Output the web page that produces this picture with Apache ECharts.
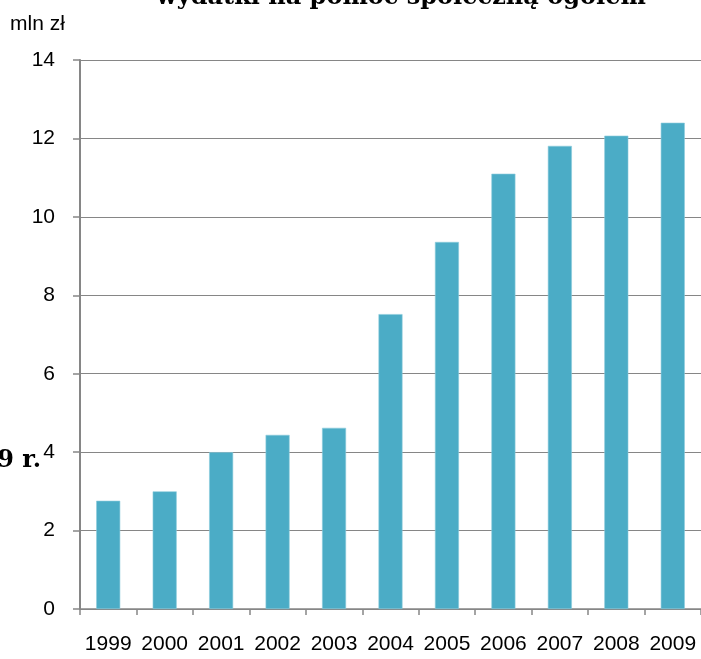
<!DOCTYPE html>
<html>
<head>
<meta charset="utf-8">
<script src="https://cdn.jsdelivr.net/npm/echarts@6/dist/echarts.min.js"></script>
<style>
html,body{margin:0;padding:0;background:#fff;}
#chart{width:701px;height:659px;}
</style>
</head>
<body>
<div id="chart"></div>
<script>
const years = ['1999','2000','2001','2002','2003','2004','2005','2006','2007','2008','2009'];
const spending = [2.76, 3.0, 4.0, 4.44, 4.62, 7.52, 9.36, 11.1, 11.81, 12.07, 12.4];
const yTicks = {min: 0, max: 14, step: 2};
const titleText = 'wydatki na pomoc społeczną ogółem';
const unitText = 'mln zł';
const sideText = '1999–2009 r.';

const chart = echarts.init(document.getElementById('chart'), null, {renderer: 'canvas'});
const gray = '#868686';
const numFont = 'Liberation Sans';
chart.setOption({
  animation: false,
  backgroundColor: '#ffffff',
  grid: {left: 80, right: -2, top: 60, bottom: 50, containLabel: false},
  xAxis: {
    type: 'category',
    data: years,
    axisLine: {show: true, lineStyle: {color: gray, width: 1.5}},
    axisTick: {show: true, length: 6, alignWithLabel: false, interval: 0, lineStyle: {color: gray, width: 1.5}},
    axisLabel: {interval: 0, margin: 25, color: '#000', fontSize: 21, fontFamily: numFont}
  },
  yAxis: {
    type: 'value',
    min: yTicks.min, max: yTicks.max, interval: yTicks.step,
    axisLine: {show: true, lineStyle: {color: gray, width: 2}},
    axisTick: {show: true, length: 7, lineStyle: {color: gray, width: 1.5}},
    splitLine: {show: true, lineStyle: {color: gray, width: 1.2}},
    axisLabel: {margin: 25, color: '#000', fontSize: 21, fontFamily: numFont}
  },
  series: [{
    type: 'bar',
    data: spending,
    barWidth: 24,
    itemStyle: {color: '#4BACC6', borderColor: '#8ccbdc', borderWidth: 0.6}
  }],
  graphic: [
    {type: 'text', left: 10, top: 14, style: {text: unitText, fontSize: 21, fontFamily: numFont, fill: '#000'}},
    {type: 'text', x: 401, y: -2, style: {text: titleText, font: 'bold 24px "DejaVu Serif"', fill: '#000', textAlign: 'center', textVerticalAlign: 'middle'}},
    {type: 'text', x: 41, y: 461, style: {text: sideText, font: 'bold 24px "DejaVu Serif"', fill: '#000', textAlign: 'right', textVerticalAlign: 'middle'}}
  ]
});
</script>
</body>
</html>
